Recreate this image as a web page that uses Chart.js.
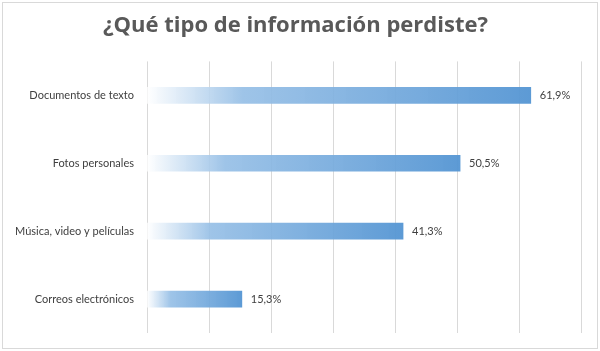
<!DOCTYPE html>
<html>
<head>
<meta charset="utf-8">
<script src="https://cdn.jsdelivr.net/npm/chart.js@4.4.1/dist/chart.umd.min.js"></script>
<style>
  body { margin: 0; background: #fff; }
  #wrap { position: relative; width: 600px; height: 351px; }
  #frame { position: absolute; left: 2px; top: 2px; width: 594px; height: 345px; border: 1px solid #d9d9d9; pointer-events: none; }
</style>
</head>
<body>
<div id="wrap">
  <canvas id="lossChart" width="600" height="351"></canvas>
  <div id="frame"></div>
</div>
<script>
const categories = ["Documentos de texto", "Fotos personales", "Música, video y películas", "Correos electrónicos"];
const percents = [61.9, 50.5, 41.3, 15.3];
const percentLabels = ["61,9%", "50,5%", "41,3%", "15,3%"];

const ctx = document.getElementById("lossChart");

// gradient per bar, from the axis to the bar end
function barGradient(context) {
    const chart = context.chart;
    if (!chart.chartArea) return "#5b9bd5";
    const x = chart.scales.x;
    const x0 = x.getPixelForValue(0);
    const x1 = x.getPixelForValue(percents[context.dataIndex]);
    const g = chart.ctx.createLinearGradient(x0, 0, x1, 0);
    g.addColorStop(0, "rgba(255,255,255,0.9)");
    g.addColorStop(0.25, "rgba(150,191,230,0.92)");
    g.addColorStop(1, "rgba(84,149,211,0.95)");
    return g;
}

const valueLabels = {
    id: "valueLabels",
    afterDatasetsDraw(chart) {
        const c = chart.ctx;
        const meta = chart.getDatasetMeta(0);
        c.save();
        c.font = "11px Lato";
        c.fillStyle = "#404040";
        c.textBaseline = "middle";
        meta.data.forEach((bar, i) => {
            c.fillText(percentLabels[i], bar.x + 9, bar.y);
        });
        c.restore();
    }
};

const lossChart = new Chart(ctx, {
    type: "bar",
    data: {
        labels: categories,
        datasets: [{
            data: percents,
            backgroundColor: barGradient,
            borderWidth: 0,
            barThickness: 16
        }]
    },
    options: {
        indexAxis: "y",
        responsive: false,
        animation: false,
        layout: { padding: { left: 10, right: 19, bottom: 18 } },
        plugins: {
            legend: { display: false },
            tooltip: { enabled: false },
            title: {
                display: true,
                text: "¿Qué tipo de información perdiste?",
                color: "#595959",
                font: { family: "Open Sans", size: 22, weight: "bold" },
                padding: { top: 13, bottom: 22 }
            }
        },
        scales: {
            x: {
                min: 0,
                max: 70,
                ticks: { display: false, stepSize: 10 },
                grid: { color: "#d9d9d9", drawTicks: false },
                border: { display: false }
            },
            y: {
                grid: { display: false },
                border: { display: false },
                ticks: { color: "#404040", font: { family: "Lato", size: 11 }, padding: 5 },
                afterFit(scale) { scale.width = 137; }
            }
        }
    },
    plugins: [valueLabels]
});
</script>
</body>
</html>
